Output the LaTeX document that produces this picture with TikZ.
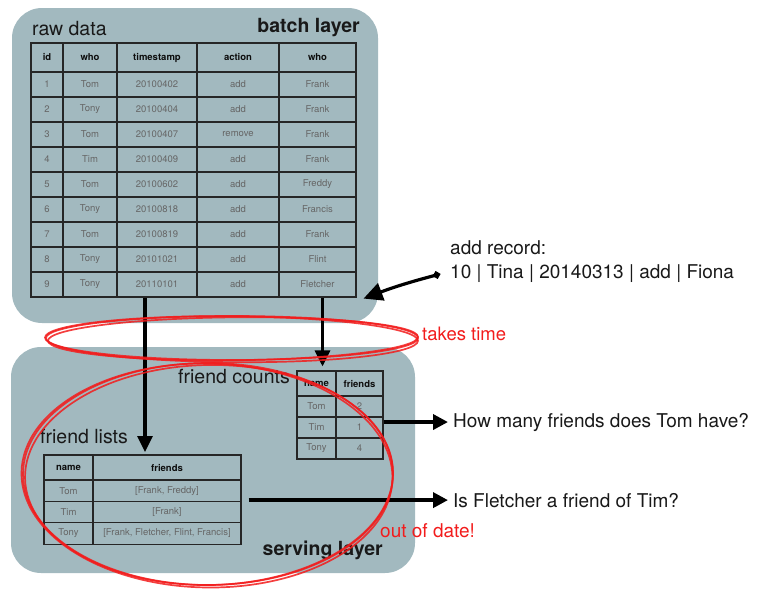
\documentclass[tikz,border=0pt]{standalone}
\usepackage{fontspec}
\setmainfont{TeX Gyre Heros}
\usetikzlibrary{
    positioning,      % For placing nodes relative to each other
    arrows.meta,      % For modern arrow tips
    calc              % For coordinate calculations
}
\definecolor{layergray}{HTML}{A2B9BF}
\definecolor{inkred}{HTML}{F21C1C}

\begin{document}
\begin{tikzpicture}[
    x=1pt, y=-1pt,
    % Global style settings
    layer_style/.style={
        fill=layergray,
        rounded corners=30pt
    },
    cell_style/.style={ % Style for one table cell
        draw=black!85,
        line width=1.1pt,
        inner sep=0pt,
        text=black!60,
        font=\fontsize{9.5}{11}\selectfont
    },
    head_style/.style={ % Style for a header cell
        cell_style,
        text=black!95,
        font=\fontsize{9.5}{11}\selectfont\bfseries
    },
    label_style/.style={ % Style for the plain labels
        text=black!90,
        font=\fontsize{19.5}{22}\selectfont,
        inner sep=0pt,
        anchor=base west
    },
    title_style/.style={ % Style for the layer names
        text=black!90,
        font=\fontsize{19.5}{22}\selectfont\bfseries,
        inner sep=0pt,
        anchor=base east
    },
    note_style/.style={ % Style for the red notes
        text=inkred,
        font=\fontsize{18.5}{22}\selectfont,
        inner sep=0pt,
        anchor=base west
    },
    arrow_tip/.style={
        -{Triangle[length=16pt, width=15pt]},
        line width=3.2pt
    },
    ink_style/.style={
        draw=inkred,
        line width=1.7pt,
        opacity=0.85
    }
]
    \useasboundingbox (0,0) rectangle (761,600);

    % 1. The two layers.
    \fill[layer_style] (12,8) rectangle (378,323);
    \fill[layer_style] (11,347) rectangle (415,573);

    \node[label_style] (rawdata) at (32,35) {raw data};
    \node[title_style] (batch) at (360,32) {batch layer};
    \node[label_style] (counts) at (178,383) {friend counts};
    \node[label_style] (lists) at (40,443) {friend lists};
    \node[title_style] (serving) at (383,555) {serving layer};

    % 2. The raw data table.
    \node[head_style, minimum width=32pt, minimum height=29pt] (raw-h-1) at (47,57.5) {id};
    \node[head_style, minimum width=54pt, minimum height=29pt] (raw-h-2) at (90,57.5) {who};
    \node[head_style, minimum width=80pt, minimum height=29pt] (raw-h-3) at (157,57.5) {timestamp};
    \node[head_style, minimum width=82pt, minimum height=29pt] (raw-h-4) at (238,57.5) {action};
    \node[head_style, minimum width=77pt, minimum height=29pt] (raw-h-5) at (317.5,57.5) {who};
    \foreach \r/\who/\stamp/\act/\whom in {
        1/Tom/20100402/add/Frank,
        2/Tony/20100404/add/Frank,
        3/Tom/20100407/remove/Frank,
        4/Tim/20100409/add/Frank,
        5/Tom/20100602/add/Freddy,
        6/Tony/20100818/add/Francis,
        7/Tom/20100819/add/Frank,
        8/Tony/20101021/add/Flint,
        9/Tony/20110101/add/Fletcher}
    {
        \pgfmathsetmacro{\ry}{59.5+25*\r}
        \node[cell_style, minimum width=32pt, minimum height=25pt] (raw-\r-1) at (47,\ry) {\r};
        \node[cell_style, minimum width=54pt, minimum height=25pt] (raw-\r-2) at (90,\ry) {\who};
        \node[cell_style, minimum width=80pt, minimum height=25pt] (raw-\r-3) at (157,\ry) {\stamp};
        \node[cell_style, minimum width=82pt, minimum height=25pt] (raw-\r-4) at (238,\ry) {\act};
        \node[cell_style, minimum width=77pt, minimum height=25pt] (raw-\r-5) at (317.5,\ry) {\whom};
    }

    % 3. The friend counts table.
    \node[head_style, minimum width=39pt, minimum height=25pt] (cnt-h-1) at (316.5,383.5) {name};
    \node[head_style, minimum width=47pt, minimum height=25pt] (cnt-h-2) at (359.5,383.5) {friends};
    \foreach \r/\name/\num in {1/Tom/2, 2/Tim/1, 3/Tony/4}
    {
        \pgfmathsetmacro{\ry}{385.5+21*\r}
        \node[cell_style, minimum width=39pt, minimum height=21pt] (cnt-\r-1) at (316.5,\ry) {\name};
        \node[cell_style, minimum width=47pt, minimum height=21pt] (cnt-\r-2) at (359.5,\ry) {\num};
    }

    % 4. The friend lists table.
    \node[head_style, minimum width=49pt, minimum height=25pt] (fl-h-1) at (68.5,467.5) {name};
    \node[head_style, minimum width=148pt, minimum height=25pt] (fl-h-2) at (167,467.5) {friends};
    \foreach \r/\name/\list in {1/Tom/{[Frank, Freddy]}, 2/Tim/{[Frank]}, 3/Tony/{[Frank, Fletcher, Flint, Francis]}}
    {
        \pgfmathsetmacro{\ry}{469.5+21.3*\r}
        \node[cell_style, minimum width=49pt, minimum height=21.3pt] (fl-\r-1) at (68.5,\ry) {\name};
        \node[cell_style, minimum width=148pt, minimum height=21.3pt] (fl-\r-2) at (167,\ry) {\list};
    }

    % 5. The questions and the new record.
    \node[label_style, font=\fontsize{19}{22}\selectfont] (record) at (450,254) {add record:};
    \node[label_style, font=\fontsize{19}{22}\selectfont, inner sep=3pt] (newrow) at (447,278) {10 | Tina | 20140313 | add | Fiona};
    \node[label_style, font=\fontsize{19}{22}\selectfont, inner sep=5pt] (qtom) at (448,427) {How many friends does Tom have?};
    \node[label_style, font=\fontsize{19}{22}\selectfont, inner sep=5pt] (qtim) at (448,507) {Is Fletcher a friend of Tim?};

    % 6. The arrows.
    \coordinate (toLists) at (145,452);
    \draw[arrow_tip] (raw-9-3.south -| toLists) -- (toLists);
    \draw[arrow_tip, shorten >=4pt] ($(raw-9-5.south)+(5,0)$) -- ($(cnt-h-1.north)+(6,0)$);
    \draw[arrow_tip, line width=3.6pt, -{Triangle[length=15pt, width=15pt]}] (cnt-2-2.east |- qtom.west) -- (qtom.west);
    \draw[arrow_tip, line width=3.6pt, -{Triangle[length=15pt, width=15pt]}] ($(fl-2-2.east |- qtim.west)+(7,0)$) -- (qtim.west);
    \draw[line width=3.2pt, {Circle[length=7pt]}-{Triangle[length=19pt, width=18pt]}]
        ($(newrow.west)+(-7,1)$) to[bend right=3] ($(raw-9-5.south east)+(7,1)$);

    % 7. The red rings drawn by hand.
    \foreach \a/\dx/\dy/\rx/\ry in {0/0/0/186/22, 0.6/1/0.8/185/21.5, -0.5/-0.5/1.2/186.5/23}
        \draw[ink_style, rotate around={\a:(232,338)}] ($(232,338)+(\dx,\dy)$) ellipse [x radius=\rx pt, y radius=\ry pt];
    \foreach \a/\dx/\dy/\rx/\ry in {0/0/0/185/111, 1/1/1/184/110, -1/-1/1.5/185.5/112}
        \draw[ink_style, rotate around={\a:(208,474)}] ($(208,474)+(\dx,\dy)$) ellipse [x radius=\rx pt, y radius=\ry pt];

    \node[note_style] (takes) at (422,340) {takes time};
    \node[note_style, font=\fontsize{19}{22}\selectfont] (outdated) at (380,537) {out of date!};

\end{tikzpicture}
\end{document}
